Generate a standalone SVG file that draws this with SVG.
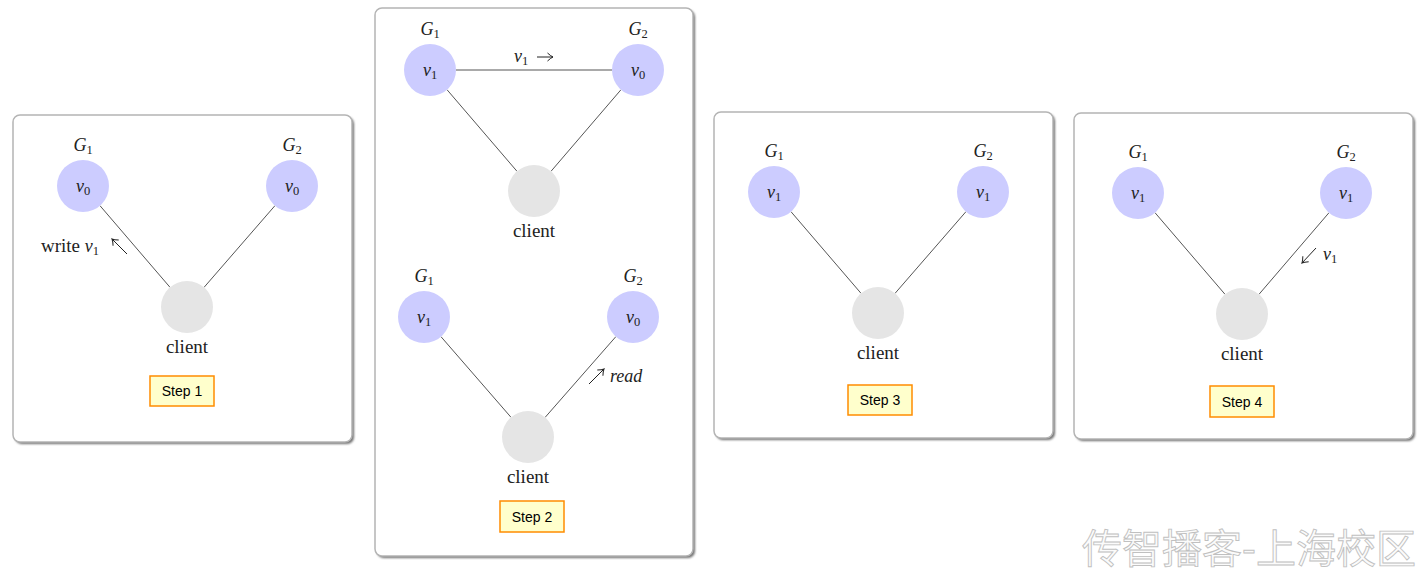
<svg xmlns="http://www.w3.org/2000/svg" width="1424" height="573" viewBox="0 0 1424 573">
<defs>
<filter id="blur" x="-5%" y="-5%" width="110%" height="110%"><feGaussianBlur stdDeviation="1"/></filter>
<marker id="ah" viewBox="-7 -5 8 10" refX="0" refY="0" markerWidth="8" markerHeight="10" markerUnits="userSpaceOnUse" orient="auto">
<path d="M -5.5 -4 Q -2 -0.8 0 0 Q -2 0.8 -5.5 4" fill="none" stroke="#222" stroke-width="1"/>
</marker>
</defs>
<style>
.shadow{fill:#707070;filter:url(#blur)}
.panel{fill:#fff;stroke:#b4b4b4;stroke-width:1.5}
.node{fill:#ccccff}
.client{fill:#e5e5e5}
.edge{stroke:#555;stroke-width:1;fill:none}
.sym{stroke:#222;stroke-width:1;fill:none;marker-end:url(#ah)}
.m{font-family:"Liberation Serif",serif;font-size:18px;font-style:italic;fill:#222}
.sub{font-size:12.5px;font-style:normal}
.rm{font-family:"Liberation Serif",serif;font-size:19px;fill:#222}
.stepbox{fill:#ffffcc;stroke:#ff8c00;stroke-width:1.5}
.steptx{font-family:"Liberation Sans",Arial,sans-serif;font-size:14px;fill:#000}
.wm{font-family:"Noto Sans CJK SC",sans-serif;font-size:40px;fill:#fbfbfb;stroke:#c0c0c0;stroke-width:0.9}
</style>

<!-- panel backgrounds -->
<g id="panel1">
<rect class="shadow" x="15" y="117" width="339" height="327" rx="7"/>
<rect class="panel" x="13" y="115" width="339" height="327" rx="7"/>
</g>
<g id="panel2">
<rect class="shadow" x="377" y="10" width="318" height="548" rx="7"/>
<rect class="panel" x="375" y="8" width="318" height="548" rx="7"/>
</g>
<g id="panel3">
<rect class="shadow" x="716" y="114" width="339" height="326" rx="7"/>
<rect class="panel" x="714" y="112" width="339" height="326" rx="7"/>
</g>
<g id="panel4">
<rect class="shadow" x="1076" y="115" width="339" height="326" rx="7"/>
<rect class="panel" x="1074" y="113" width="339" height="326" rx="7"/>
</g>

<!-- connectors -->
<g id="connectors">
<line class="edge" x1="100" y1="205.7" x2="170" y2="287.3"/>
<line class="edge" x1="275" y1="205.6" x2="204" y2="287.4"/>
<line class="edge" x1="456" y1="70" x2="612" y2="70"/>
<line class="edge" x1="447" y1="89.7" x2="517" y2="171.3"/>
<line class="edge" x1="621" y1="89.7" x2="551" y2="171.3"/>
<line class="edge" x1="441" y1="336.7" x2="511" y2="417.3"/>
<line class="edge" x1="615.9" y1="336.6" x2="545.1" y2="417.4"/>
<line class="edge" x1="791" y1="211.7" x2="861" y2="293.3"/>
<line class="edge" x1="966" y1="211.6" x2="895" y2="293.4"/>
<line class="edge" x1="1155" y1="212.7" x2="1225" y2="294.3"/>
<line class="edge" x1="1329" y1="212.7" x2="1259" y2="294.3"/>
</g>

<!-- Step 1 -->
<g id="s1-g1">
<text class="m" x="83" y="151" text-anchor="middle">G<tspan class="sub" dy="3">1</tspan></text>
<circle class="node" cx="83" cy="186" r="26"/>
<text class="m" x="83" y="192" text-anchor="middle">v<tspan class="sub" dy="3">0</tspan></text>
</g>
<g id="s1-g2">
<text class="m" x="292" y="151" text-anchor="middle">G<tspan class="sub" dy="3">2</tspan></text>
<circle class="node" cx="292" cy="186" r="26"/>
<text class="m" x="292" y="192" text-anchor="middle">v<tspan class="sub" dy="3">0</tspan></text>
</g>
<g id="s1-client">
<circle class="client" cx="187" cy="307" r="26"/>
<text class="rm" x="187" y="353" text-anchor="middle">client</text>
</g>
<g id="s1-write">
<text class="rm" x="41" y="252">write <tspan font-style="italic" font-size="18">v</tspan><tspan class="sub" dy="3">1</tspan></text>
<line class="sym" x1="127" y1="254" x2="112" y2="239"/>
</g>
<g id="s1-step">
<rect class="stepbox" x="150" y="376" width="64" height="30"/>
<text class="steptx" x="182" y="396" text-anchor="middle">Step 1</text>
</g>

<!-- Step 2 top -->
<g id="s2a-g1">
<text class="m" x="430" y="35" text-anchor="middle">G<tspan class="sub" dy="3">1</tspan></text>
<circle class="node" cx="430" cy="70" r="26"/>
<text class="m" x="430" y="76" text-anchor="middle">v<tspan class="sub" dy="3">1</tspan></text>
</g>
<g id="s2a-g2">
<text class="m" x="638" y="35" text-anchor="middle">G<tspan class="sub" dy="3">2</tspan></text>
<circle class="node" cx="638" cy="70" r="26"/>
<text class="m" x="638" y="76" text-anchor="middle">v<tspan class="sub" dy="3">0</tspan></text>
</g>
<g id="s2a-client">
<circle class="client" cx="534" cy="191" r="26"/>
<text class="rm" x="534" y="237" text-anchor="middle">client</text>
</g>
<g id="s2a-msg">
<text class="m" x="514" y="62">v<tspan class="sub" dy="3">1</tspan></text>
<line class="sym" x1="537" y1="57" x2="553" y2="57"/>
</g>

<!-- Step 2 bottom -->
<g id="s2b-g1">
<text class="m" x="424" y="282" text-anchor="middle">G<tspan class="sub" dy="3">1</tspan></text>
<circle class="node" cx="424" cy="317" r="26"/>
<text class="m" x="424" y="323" text-anchor="middle">v<tspan class="sub" dy="3">1</tspan></text>
</g>
<g id="s2b-g2">
<text class="m" x="633" y="282" text-anchor="middle">G<tspan class="sub" dy="3">2</tspan></text>
<circle class="node" cx="633" cy="317" r="26"/>
<text class="m" x="633" y="323" text-anchor="middle">v<tspan class="sub" dy="3">0</tspan></text>
</g>
<g id="s2b-client">
<circle class="client" cx="528" cy="437" r="26"/>
<text class="rm" x="528" y="483" text-anchor="middle">client</text>
</g>
<g id="s2b-read">
<line class="sym" x1="589" y1="384" x2="604" y2="369"/>
<text class="m" x="610" y="382" font-size="19">read</text>
</g>
<g id="s2-step">
<rect class="stepbox" x="500" y="501" width="64" height="31"/>
<text class="steptx" x="532" y="522" text-anchor="middle">Step 2</text>
</g>

<!-- Step 3 -->
<g id="s3-g1">
<text class="m" x="774" y="157" text-anchor="middle">G<tspan class="sub" dy="3">1</tspan></text>
<circle class="node" cx="774" cy="192" r="26"/>
<text class="m" x="774" y="198" text-anchor="middle">v<tspan class="sub" dy="3">1</tspan></text>
</g>
<g id="s3-g2">
<text class="m" x="983" y="157" text-anchor="middle">G<tspan class="sub" dy="3">2</tspan></text>
<circle class="node" cx="983" cy="192" r="26"/>
<text class="m" x="983" y="198" text-anchor="middle">v<tspan class="sub" dy="3">1</tspan></text>
</g>
<g id="s3-client">
<circle class="client" cx="878" cy="313" r="26"/>
<text class="rm" x="878" y="359" text-anchor="middle">client</text>
</g>
<g id="s3-step">
<rect class="stepbox" x="848" y="385" width="64" height="30"/>
<text class="steptx" x="880" y="405" text-anchor="middle">Step 3</text>
</g>

<!-- Step 4 -->
<g id="s4-g1">
<text class="m" x="1138" y="158" text-anchor="middle">G<tspan class="sub" dy="3">1</tspan></text>
<circle class="node" cx="1138" cy="193" r="26"/>
<text class="m" x="1138" y="199" text-anchor="middle">v<tspan class="sub" dy="3">1</tspan></text>
</g>
<g id="s4-g2">
<text class="m" x="1346" y="158" text-anchor="middle">G<tspan class="sub" dy="3">2</tspan></text>
<circle class="node" cx="1346" cy="193" r="26"/>
<text class="m" x="1346" y="199" text-anchor="middle">v<tspan class="sub" dy="3">1</tspan></text>
</g>
<g id="s4-client">
<circle class="client" cx="1242" cy="314" r="26"/>
<text class="rm" x="1242" y="360" text-anchor="middle">client</text>
</g>
<g id="s4-msg">
<line class="sym" x1="1316" y1="248" x2="1302" y2="263"/>
<text class="m" x="1323" y="260">v<tspan class="sub" dy="3">1</tspan></text>
</g>
<g id="s4-step">
<rect class="stepbox" x="1210" y="386" width="64" height="31"/>
<text class="steptx" x="1242" y="407" text-anchor="middle">Step 4</text>
</g>

<!-- watermark -->
<text class="wm" x="1416" y="563" text-anchor="end">传智播客-上海校区</text>
</svg>
